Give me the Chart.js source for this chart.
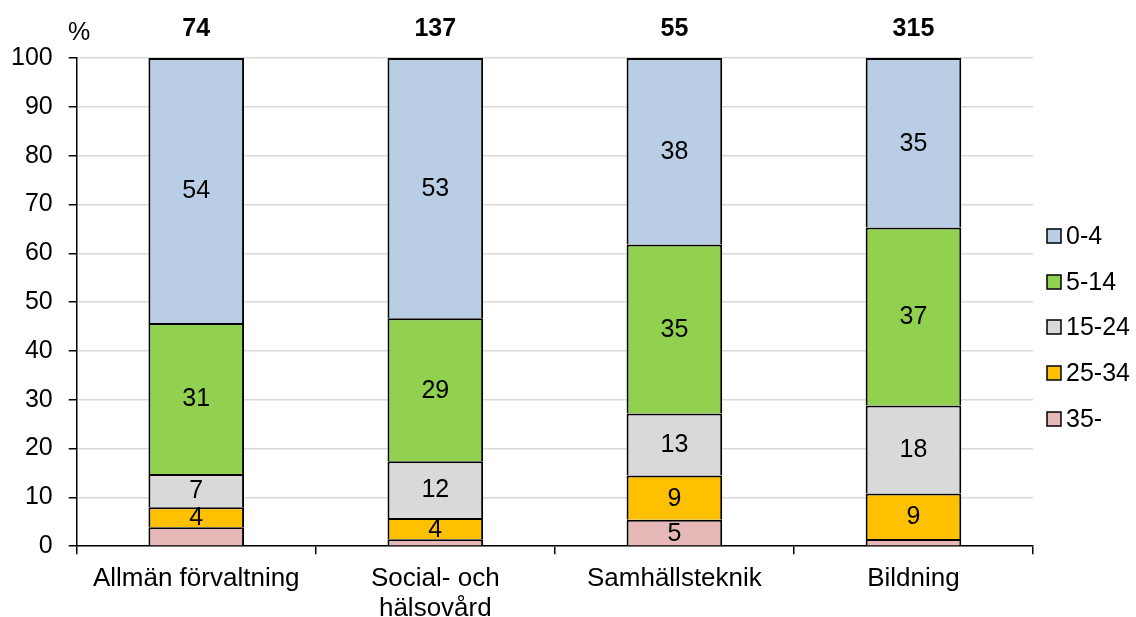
<!DOCTYPE html>
<html>
<head>
<meta charset="utf-8">
<script src="https://cdn.jsdelivr.net/npm/chart.js@4/dist/chart.umd.min.js"></script>
<style>
    html, body { margin: 0; padding: 0; background: #fff; }
    #wrap { width: 1136px; height: 617px; }
</style>
</head>
<body>
<div id="wrap"><canvas id="ageChart" width="1136" height="617"></canvas></div>
<script>
const categories = ['Allmän förvaltning', ['Social- och', 'hälsovård'], 'Samhällsteknik', 'Bildning'];
const totals = [74, 137, 55, 315];
const ageGroups = ['0-4', '5-14', '15-24', '25-34', '35-'];
const age0to4 = [54.3, 53.3, 38.2, 34.7];
const age5to14 = [30.9, 29.3, 34.6, 36.5];
const age15to24 = [6.8, 11.6, 12.7, 18.0];
const age25to34 = [4.1, 4.4, 9.1, 9.3];
const age35plus = [3.9, 1.4, 5.4, 1.5];
const yTicks = [0, 10, 20, 30, 40, 50, 60, 70, 80, 90, 100];

const colors = ['#b9cde5', '#92d050', '#d9d9d9', '#ffc000', '#e6b9b8'];
const seriesValues = [age0to4, age5to14, age15to24, age25to34, age35plus];
const fontFamily = '"Liberation Sans", Arial, sans-serif';

// stacked bottom-up: 35- first, 0-4 last
const datasets = [];
for (let i = ageGroups.length - 1; i >= 0; i--) {
    datasets.push({
        label: ageGroups[i],
        data: seriesValues[i],
        backgroundColor: colors[i],
        borderColor: '#000',
        // only the top edge of each segment, so joins stay one line thick
        borderWidth: { top: 2, bottom: 0, left: 2, right: 2 },
        borderSkipped: false
    });
}

const overlayPlugin = {
    id: 'overlay',
    afterDatasetsDraw(chart) {
        const ctx = chart.ctx;
        const x = chart.scales.x;
        ctx.save();
        ctx.fillStyle = '#000';
        ctx.textAlign = 'center';
        ctx.textBaseline = 'middle';

        // segment values
        ctx.font = '25px ' + fontFamily;
        chart.data.datasets.forEach(function (ds, di) {
            chart.getDatasetMeta(di).data.forEach(function (bar, i) {
                const v = ds.data[i];
                if (v < 4) return;
                ctx.fillText(String(Math.round(v)), bar.x, (bar.y + bar.base) / 2 + 1);
            });
        });

        // totals above bars
        ctx.font = 'bold 25px ' + fontFamily;
        totals.forEach(function (t, i) {
            ctx.fillText(String(t), x.getPixelForValue(i), 29);
        });

        // unit
        ctx.font = '25px ' + fontFamily;
        ctx.textAlign = 'left';
        ctx.fillText('%', 68, 33);

        // legend
        const legendY = [236, 282, 327, 373, 419];
        ageGroups.forEach(function (g, i) {
            ctx.fillStyle = colors[i];
            ctx.fillRect(1047, legendY[i] - 7, 14, 14);
            ctx.strokeStyle = '#000';
            ctx.lineWidth = 1.5;
            ctx.strokeRect(1047, legendY[i] - 7, 14, 14);
            ctx.fillStyle = '#000';
            ctx.fillText(g, 1066, legendY[i] + 1);
        });
        ctx.restore();
    }
};

const ctx = document.getElementById('ageChart').getContext('2d');
new Chart(ctx, {
    type: 'bar',
    data: { labels: categories, datasets: datasets },
    options: {
        responsive: false,
        animation: false,
        layout: { padding: { top: 58, right: 103, left: -5, bottom: -17 } },
        datasets: { bar: { categoryPercentage: 1, barPercentage: 0.4 } },
        plugins: {
            legend: { display: false },
            tooltip: { enabled: false }
        },
        scales: {
            x: {
                stacked: true,
                grid: { offset: true, drawOnChartArea: false, tickColor: '#000', tickLength: 8, lineWidth: 1.5 },
                border: { color: '#000', width: 1.5 },
                ticks: {
                    color: '#000', padding: 10, maxRotation: 0,
                    font: { family: fontFamily, size: 26, lineHeight: 1.15 }
                }
            },
            y: {
                stacked: true,
                min: 0,
                max: 100,
                afterBuildTicks: function (axis) {
                    axis.ticks = yTicks.map(v => ({ value: v }));
                },
                grid: { color: '#d9d9d9', lineWidth: 1.5, tickColor: '#000', tickLength: 8 },
                border: { color: '#000', width: 1.5 },
                ticks: {
                    color: '#000', padding: 16,
                    font: { family: fontFamily, size: 25 }
                }
            }
        }
    },
    plugins: [overlayPlugin]
});
</script>
</body>
</html>
